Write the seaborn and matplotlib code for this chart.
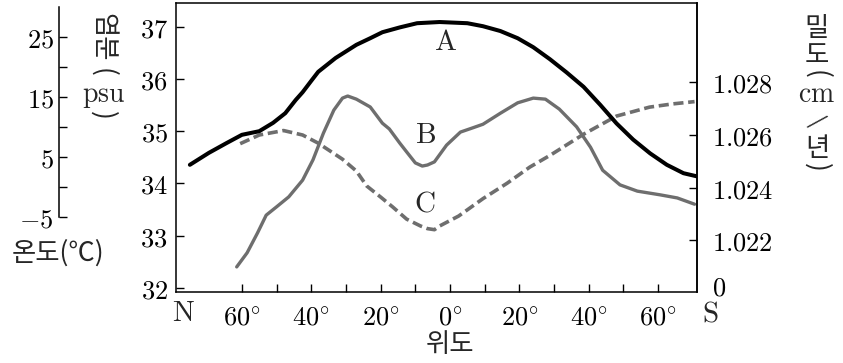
import numpy as np
import pandas as pd

import matplotlib
matplotlib.use("Agg")
import matplotlib.pyplot as plt
import seaborn as sns

sns.set_theme(style="ticks")
# 한글 라벨용 글꼴 (set_theme 이후에 지정해야 유지됨)
plt.rcParams["font.family"] = ["Noto Sans CJK KR", "DejaVu Sans"]
plt.rcParams["mathtext.fontset"] = "cm"
plt.rcParams["axes.unicode_minus"] = True

# ---------------------------------------------------------------------------
# 데이터 (위도: 음수 = 북반구, 양수 = 남반구)
# ---------------------------------------------------------------------------
# A: 수온 (°C)
a_lat = [-75, -69.5, -64.5, -60, -55, -51, -47.5, -44.5, -42.5, -40, -38, -33,
         -27, -23, -19.5, -14.5, -9.5, -3, 5, 9.5, 14.5, 19.5, 24, 28.8, 33.6,
         38.5, 43.3, 48, 52.8, 57.7, 62.5, 67.3, 71]
a_temp = [3.7, 5.7, 7.3, 8.7, 9.3, 10.7, 12.3, 14.5, 15.8, 17.7, 19.2, 21.5,
          23.7, 24.8, 25.8, 26.6, 27.3, 27.5, 27.3, 26.8, 26.0, 24.8, 23.3, 21.3,
          19.1, 16.7, 13.7, 10.6, 7.9, 5.6, 3.7, 2.3, 1.8]

# B: 염분 (psu)
b_lat = [-61.5, -58.5, -55.5, -53, -50, -46.5, -42.5, -39.5, -36.5, -33.5, -31,
         -29.5, -27, -23, -19.5, -17.5, -14.5, -12.5, -10, -8, -6.5, -4.5, -1,
         3, 6.5, 9.5, 14.5, 19.5, 24, 27.5, 31.5, 36.5, 40.5, 44, 49, 54, 60.5,
         65.5, 70.5]
b_sal = [32.40, 32.67, 33.05, 33.39, 33.55, 33.74, 34.06, 34.45, 34.96, 35.40,
         35.63, 35.67, 35.61, 35.46, 35.15, 35.04, 34.77, 34.60, 34.39, 34.33,
         34.35, 34.41, 34.73, 34.98, 35.06, 35.13, 35.34, 35.54, 35.63, 35.61,
         35.42, 35.08, 34.69, 34.25, 33.97, 33.85, 33.78, 33.72, 33.60]

# C: 밀도
c_lat = [-60.5, -55, -48, -42.5, -38, -31, -27, -24, -20, -16.5, -12.5, -8.5,
         -6.5, -4.5, -3, 2.5, 9.5, 16.5, 23, 29, 38.5, 48, 57.5, 64, 70.5]
c_den = [1.02567, 1.02600, 1.02617, 1.02600, 1.02569, 1.02508, 1.02463, 1.02406,
         1.02364, 1.02326, 1.02280, 1.02254, 1.02244, 1.02240, 1.02254, 1.02292,
         1.02358, 1.02417, 1.02478, 1.02524, 1.02603, 1.02672, 1.02706, 1.02718,
         1.02727]

# 축 눈금
lat_ticks = [-60, -50, -40, -30, -20, -10, 0, 10, 20, 30, 40, 50, 60]
lat_labels = ["60", "", "40", "", "20", "", "0", "", "20", "", "40", "", "60"]
sal_ticks = [32, 33, 34, 35, 36, 37]
temp_ticks = [-5, 0, 5, 10, 15, 20, 25]
temp_labels = ["-5", "", "5", "", "15", "", "25"]
den_ticks = [1.0203, 1.022, 1.024, 1.026, 1.028]
den_labels = ["0", "1.022", "1.024", "1.026", "1.028"]

FS = 19
GRAY = "#6e6e6e"


def m(s):
    return f"${s}$" if s else ""


fig = plt.figure(figsize=(8.43, 3.63), dpi=100)
ax = fig.add_axes([176 / 843, 71 / 363, 521 / 843, 289 / 363])
ax_d = ax.twinx()
ax_t = ax.twinx()

# 곡선
sns.lineplot(x=b_lat, y=b_sal, ax=ax, color=GRAY, lw=2.4,
             solid_joinstyle="round", solid_capstyle="round")
sns.lineplot(x=c_lat, y=c_den, ax=ax_d, color=GRAY, lw=2.6,
             linestyle=(0, (2.8, 1.3)), dash_joinstyle="round")
sns.lineplot(x=a_lat, y=a_temp, ax=ax_t, color="black", lw=2.9,
             solid_joinstyle="round", solid_capstyle="round")

# 염분 축 (본 축)
ax.set_xlim(-79, 71.2)
ax.set_ylim(31.92, 37.45)
ax.set_xticks(lat_ticks, labels=[m(s + "^{\\circ}") if s else "" for s in lat_labels])
ax.set_yticks(sal_ticks, labels=[m(str(v)) for v in sal_ticks])
ax.tick_params(axis="x", direction="in", length=6, width=1, pad=9,
               labelsize=FS, colors="black")
ax.tick_params(axis="y", direction="in", length=6, width=1, pad=6,
               labelsize=FS, colors="black")
ax.set_xlabel("")
ax.set_ylabel("")
for sp in ax.spines.values():
    sp.set_visible(True)
    sp.set_color("black")
    sp.set_linewidth(1.1)

# 밀도 축 (오른쪽)
ax_d.set_ylim(1.02003, 1.03102)
ax_d.set_yticks(den_ticks, labels=[m(s) for s in den_labels])
ax_d.tick_params(axis="y", direction="in", length=6, width=1, pad=11,
                 labelsize=FS, colors="black")
ax_d.yaxis.get_major_ticks()[0].tick2line.set_visible(False)
ax_d.set_ylabel("")
for name, sp in ax_d.spines.items():
    sp.set_visible(name == "right")
    sp.set_linewidth(1.1)
    sp.set_color("black")

# 수온 축 (왼쪽 바깥)
ax_t.set_ylim(-17.5, 30.67)
ax_t.yaxis.set_ticks_position("left")
ax_t.yaxis.set_label_position("left")
ax_t.set_yticks(temp_ticks, labels=[m(s) for s in temp_labels])
ax_t.tick_params(axis="y", direction="in", length=6, width=1, pad=4,
                 labelsize=FS, colors="black")
ax_t.set_ylabel("")
for name, sp in ax_t.spines.items():
    sp.set_visible(name == "left")
ax_t.spines["left"].set_position(("outward", 84))
ax_t.spines["left"].set_bounds(-5, 30)
ax_t.spines["left"].set_linewidth(1.1)
ax_t.spines["left"].set_color("black")

# 곡선 이름표
ax.text(-1.4, 36.71, m("\\mathrm{A}"), fontsize=21, ha="center", va="center")
ax.text(-7.2, 34.92, m("\\mathrm{B}"), fontsize=21, ha="center", va="center")
ax.text(-7.2, 33.62, m("\\mathrm{C}"), fontsize=21, ha="center", va="center")


def ftext(px, py, s, **kw):
    kw.setdefault("ha", "center")
    kw.setdefault("va", "center")
    kw.setdefault("fontsize", FS)
    fig.text(px / 843, 1 - py / 363, s, **kw)


# x축 양 끝 / 축 제목
ftext(183, 313, m("\\mathrm{N}"), fontsize=21)
ftext(710, 313, m("\\mathrm{S}"), fontsize=21)
ftext(450, 344, "위도")

# 수온 축 제목
ftext(58, 253, "온도(℃)")

# 염분 축 제목 (세로쓰기)
ftext(103, 37, "염분", rotation=-90)
ftext(103, 72, "(", rotation=-90)
ftext(104, 95, m("\\mathrm{psu}"), fontsize=20)
ftext(103, 115, ")", rotation=-90)

# 밀도 축 제목 (세로쓰기)
ftext(817, 28, "밀")
ftext(817, 55, "도")
ftext(817, 74, "(", rotation=-90)
ftext(817, 94, m("\\mathrm{cm}"), fontsize=20)
ftext(817, 121, "/", rotation=-45, fontsize=16)
ftext(817, 148, "년")
ftext(817, 167, ")", rotation=-90)

fig.savefig("out.png", dpi=100)
